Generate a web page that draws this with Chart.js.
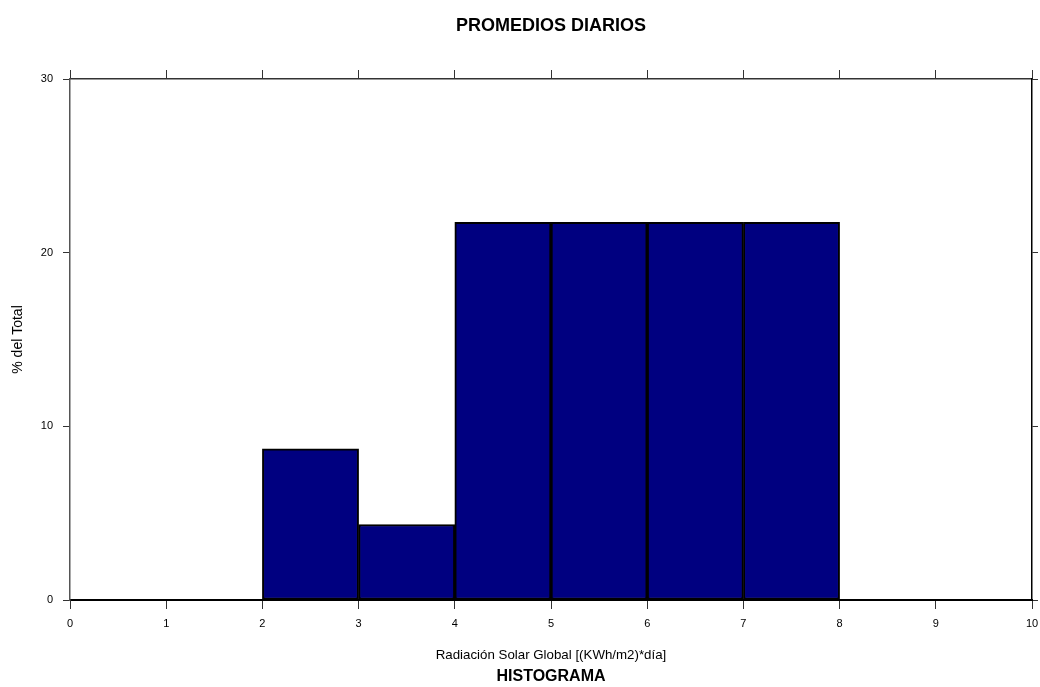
<!DOCTYPE html>
<html>
<head>
<meta charset="utf-8">
<script src="https://cdn.jsdelivr.net/npm/chart.js@4/dist/chart.umd.min.js"></script>
<style>
  html, body { margin: 0; padding: 0; background: #fff; }
  #wrap { width: 1040px; height: 687px; }
</style>
</head>
<body>
<div id="wrap"><canvas id="histChart"></canvas></div>
<script>
// bins of 1 unit, % of total
const binCenters = [0.5, 1.5, 2.5, 3.5, 4.5, 5.5, 6.5, 7.5, 8.5, 9.5];
const percentTotal = [0, 0, 8.7, 4.35, 21.74, 21.74, 21.74, 21.74, 0, 0];
const xTicks = [0, 1, 2, 3, 4, 5, 6, 7, 8, 9, 10];
const yTicks = [0, 10, 20, 30];

const tickFont = { family: 'Liberation Sans, Arial', size: 11 };

function renderHistogram() {
  const canvas = document.getElementById('histChart');
  if (!canvas) return;

  new Chart(canvas, {
    type: 'bar',
    data: {
      datasets: [{
        data: binCenters.map((x, i) => ({ x: x, y: percentTotal[i] })),
        backgroundColor: '#000080',
        borderColor: '#000000',
        borderWidth: 2,
        borderSkipped: false,
        barPercentage: 1,
        categoryPercentage: 1
      }]
    },
    options: {
      responsive: true,
      maintainAspectRatio: false,
      animation: false,
      layout: { padding: 0 },
      plugins: {
        legend: { display: false },
        tooltip: { enabled: false },
        title: {
          display: true,
          fullSize: false,
          text: 'PROMEDIOS DIARIOS',
          color: '#000',
          font: { family: 'Liberation Sans, Arial', size: 18, weight: 'bold' },
          padding: { top: 15, bottom: 0 }
        },
        subtitle: {
          display: true,
          fullSize: false,
          position: 'bottom',
          text: 'HISTOGRAMA',
          color: '#000',
          font: { family: 'Liberation Sans, Arial', size: 16, weight: 'bold' },
          padding: { top: 0, bottom: 1 }
        }
      },
      scales: {
        x: {
          type: 'linear',
          position: 'bottom',
          min: xTicks[0],
          max: xTicks[xTicks.length - 1],
          offset: false,
          afterBuildTicks: (s) => { s.ticks = xTicks.map(v => ({ value: v })); },
          afterFit: (s) => { s.height = 66.8; s.paddingLeft = 0; s.paddingRight = 0; },
          ticks: { color: '#000', font: tickFont, padding: 8, maxRotation: 0 },
          grid: { offset: false, drawOnChartArea: false, tickLength: 9, color: '#333' },
          border: { color: '#000', width: 2 },
          title: {
            display: true,
            text: 'Radiación Solar Global [(KWh/m2)*día]',
            color: '#000',
            font: { family: 'Liberation Sans, Arial', size: 13.3 },
            padding: { top: 0, bottom: 3 }
          }
        },
        x2: {
          type: 'linear',
          position: 'top',
          min: xTicks[0],
          max: xTicks[xTicks.length - 1],
          offset: false,
          afterBuildTicks: (s) => { s.ticks = xTicks.map(v => ({ value: v })); },
          afterFit: (s) => { s.height = 42.4; s.paddingLeft = 0; s.paddingRight = 0; },
          ticks: { display: false },
          grid: { offset: false, drawOnChartArea: false, tickLength: 9, color: '#333' },
          border: { color: '#333', width: 1.5 }
        },
        y: {
          position: 'left',
          min: yTicks[0],
          max: yTicks[yTicks.length - 1],
          afterBuildTicks: (s) => { s.ticks = yTicks.map(v => ({ value: v })); },
          afterFit: (s) => { s.width = 70; },
          ticks: { color: '#000', font: tickFont, padding: 10 },
          grid: { drawOnChartArea: false, tickLength: 7, color: '#333' },
          border: { color: '#555', width: 1.5 },
          title: {
            display: true,
            text: '% del Total',
            color: '#000',
            font: { family: 'Liberation Sans, Arial', size: 14 },
            padding: { top: 10, bottom: 0 }
          }
        },
        y2: {
          position: 'right',
          min: yTicks[0],
          max: yTicks[yTicks.length - 1],
          afterBuildTicks: (s) => { s.ticks = yTicks.map(v => ({ value: v })); },
          afterFit: (s) => { s.width = 8; },
          ticks: { display: false },
          grid: { drawOnChartArea: false, tickLength: 6, color: '#333' },
          border: { color: '#000', width: 1.5 }
        }
      }
    }
  });
}

renderHistogram();
</script>
</body>
</html>
